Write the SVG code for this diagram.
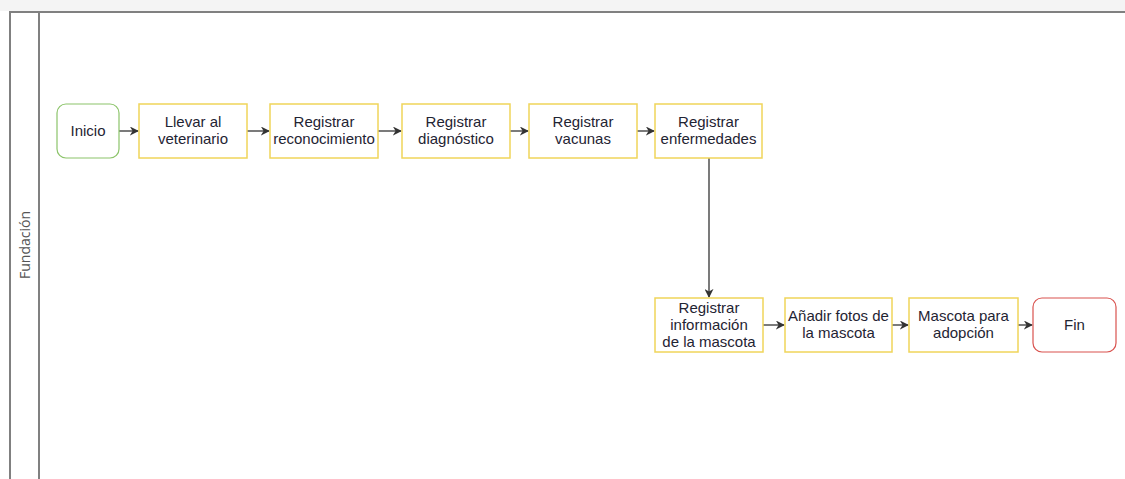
<svg xmlns="http://www.w3.org/2000/svg" width="1125" height="479" viewBox="0 0 1125 479">
<defs>
<style>
.box{fill:#ffffff;stroke:#f0d55a;stroke-width:1.5}
.start{fill:#ffffff;stroke:#8cc46a;stroke-width:1.2}
.end{fill:#ffffff;stroke:#d9534f;stroke-width:1.2}
.t{font-family:"Liberation Sans",Arial,sans-serif;font-size:15px;fill:#1f2433;text-anchor:middle}
.lane{fill:none;stroke:#808080;stroke-width:2}
.edge{fill:none;stroke:#333;stroke-width:1.3}
</style>
<marker id="ah" viewBox="0 0 10 10" refX="9" refY="5" markerWidth="9" markerHeight="9" orient="auto" markerUnits="userSpaceOnUse">
<path d="M0,0 L10,5 L0,10 L3,5 Z" fill="#333"/>
</marker>
</defs>
<rect x="0" y="0" width="1125" height="479" fill="#ffffff"/>
<rect x="0" y="0" width="1125" height="11" fill="#f4f4f4"/>
<g id="lane">
<path class="lane" d="M10,479 L10,12 L1125,12"/>
<line class="lane" x1="39" y1="12" x2="39" y2="479"/>
<text x="0" y="0" transform="translate(30,245) rotate(-90)" font-family="'Open Sans','DejaVu Sans',sans-serif" font-size="14" fill="#555" text-anchor="middle">Fundación</text>
</g>
<g id="connectors">
<line class="edge" x1="119" y1="131" x2="138" y2="131" marker-end="url(#ah)"/>
<line class="edge" x1="247" y1="131" x2="269" y2="131" marker-end="url(#ah)"/>
<line class="edge" x1="378" y1="131" x2="401" y2="131" marker-end="url(#ah)"/>
<line class="edge" x1="510" y1="131" x2="528" y2="131" marker-end="url(#ah)"/>
<line class="edge" x1="637" y1="131" x2="654" y2="131" marker-end="url(#ah)"/>
<line class="edge" x1="709" y1="158" x2="709" y2="297" marker-end="url(#ah)"/>
<line class="edge" x1="763" y1="325" x2="784" y2="325" marker-end="url(#ah)"/>
<line class="edge" x1="892" y1="325" x2="908" y2="325" marker-end="url(#ah)"/>
<line class="edge" x1="1018" y1="325" x2="1032" y2="325" marker-end="url(#ah)"/>
</g>
<g id="n-inicio"><rect class="start" x="57" y="104" width="62" height="54" rx="9"/><text class="t" x="88" y="136">Inicio</text></g>
<g id="n-llevar"><rect class="box" x="139" y="104" width="108" height="54"/><text class="t" x="193" y="127">Llevar al</text><text class="t" x="193" y="144">veterinario</text></g>
<g id="n-recon"><rect class="box" x="270" y="104" width="108" height="54"/><text class="t" x="324" y="127">Registrar</text><text class="t" x="324" y="144">reconocimiento</text></g>
<g id="n-diag"><rect class="box" x="402" y="104" width="108" height="54"/><text class="t" x="456" y="127">Registrar</text><text class="t" x="456" y="144">diagnóstico</text></g>
<g id="n-vac"><rect class="box" x="529" y="104" width="108" height="54"/><text class="t" x="583" y="127">Registrar</text><text class="t" x="583" y="144">vacunas</text></g>
<g id="n-enf"><rect class="box" x="655" y="104" width="107" height="54"/><text class="t" x="708.5" y="127">Registrar</text><text class="t" x="708.5" y="144">enfermedades</text></g>
<g id="n-info"><rect class="box" x="655" y="298" width="108" height="54"/><text class="t" x="709" y="313">Registrar</text><text class="t" x="709" y="330">información</text><text class="t" x="709" y="347">de la mascota</text></g>
<g id="n-fotos"><rect class="box" x="785" y="298" width="107" height="54"/><text class="t" x="838.5" y="321">Añadir fotos de</text><text class="t" x="838.5" y="338">la mascota</text></g>
<g id="n-adop"><rect class="box" x="909" y="298" width="109" height="54"/><text class="t" x="963.5" y="321">Mascota para</text><text class="t" x="963.5" y="338">adopción</text></g>
<g id="n-fin"><rect class="end" x="1033" y="298" width="83" height="54" rx="9"/><text class="t" x="1074.5" y="330">Fin</text></g>
</svg>
